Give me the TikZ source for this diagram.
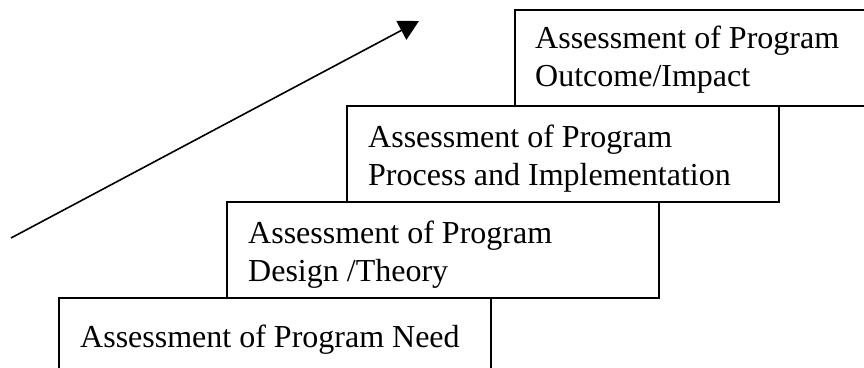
\documentclass[tikz,border=0pt]{standalone}
\usepackage{fontspec}
\setmainfont{Liberation Serif}
\usetikzlibrary{arrows.meta}

\tikzset{
    stage/.style={draw, line width=1.6pt},
    stagetext/.style={anchor=north west, inner sep=0pt, align=left,
        font=\fontsize{32}{38}\selectfont}
}

\begin{document}
\begin{tikzpicture}[x=1pt,y=-1pt]
    \useasboundingbox (0,0) rectangle (864,367);
    \clip (0,0) rectangle (864,367);

    \draw[stage] (59,298) rectangle (491,394);
    \node[stagetext] (need) at (80,325) {Assessment of Program Need};

    \draw[stage] (227,202) rectangle (659,298);
    \node[stagetext] (design) at (248,221) {Assessment of Program\\Design /Theory};

    \draw[stage] (347,106) rectangle (779,202);
    \node[stagetext] (process) at (368,125) {Assessment of Program\\Process and Implementation};

    \draw[stage] (515,10) rectangle (947,106);
    \node[stagetext] (outcome) at (535,26) {Assessment of Program\\Outcome/Impact};

    \coordinate (low) at (11,238);
    \coordinate (high) at (419,21);
    \draw[-{Triangle[length=20pt,width=21pt]}, line width=1.6pt] (low) -- (high);

\end{tikzpicture}
\end{document}
